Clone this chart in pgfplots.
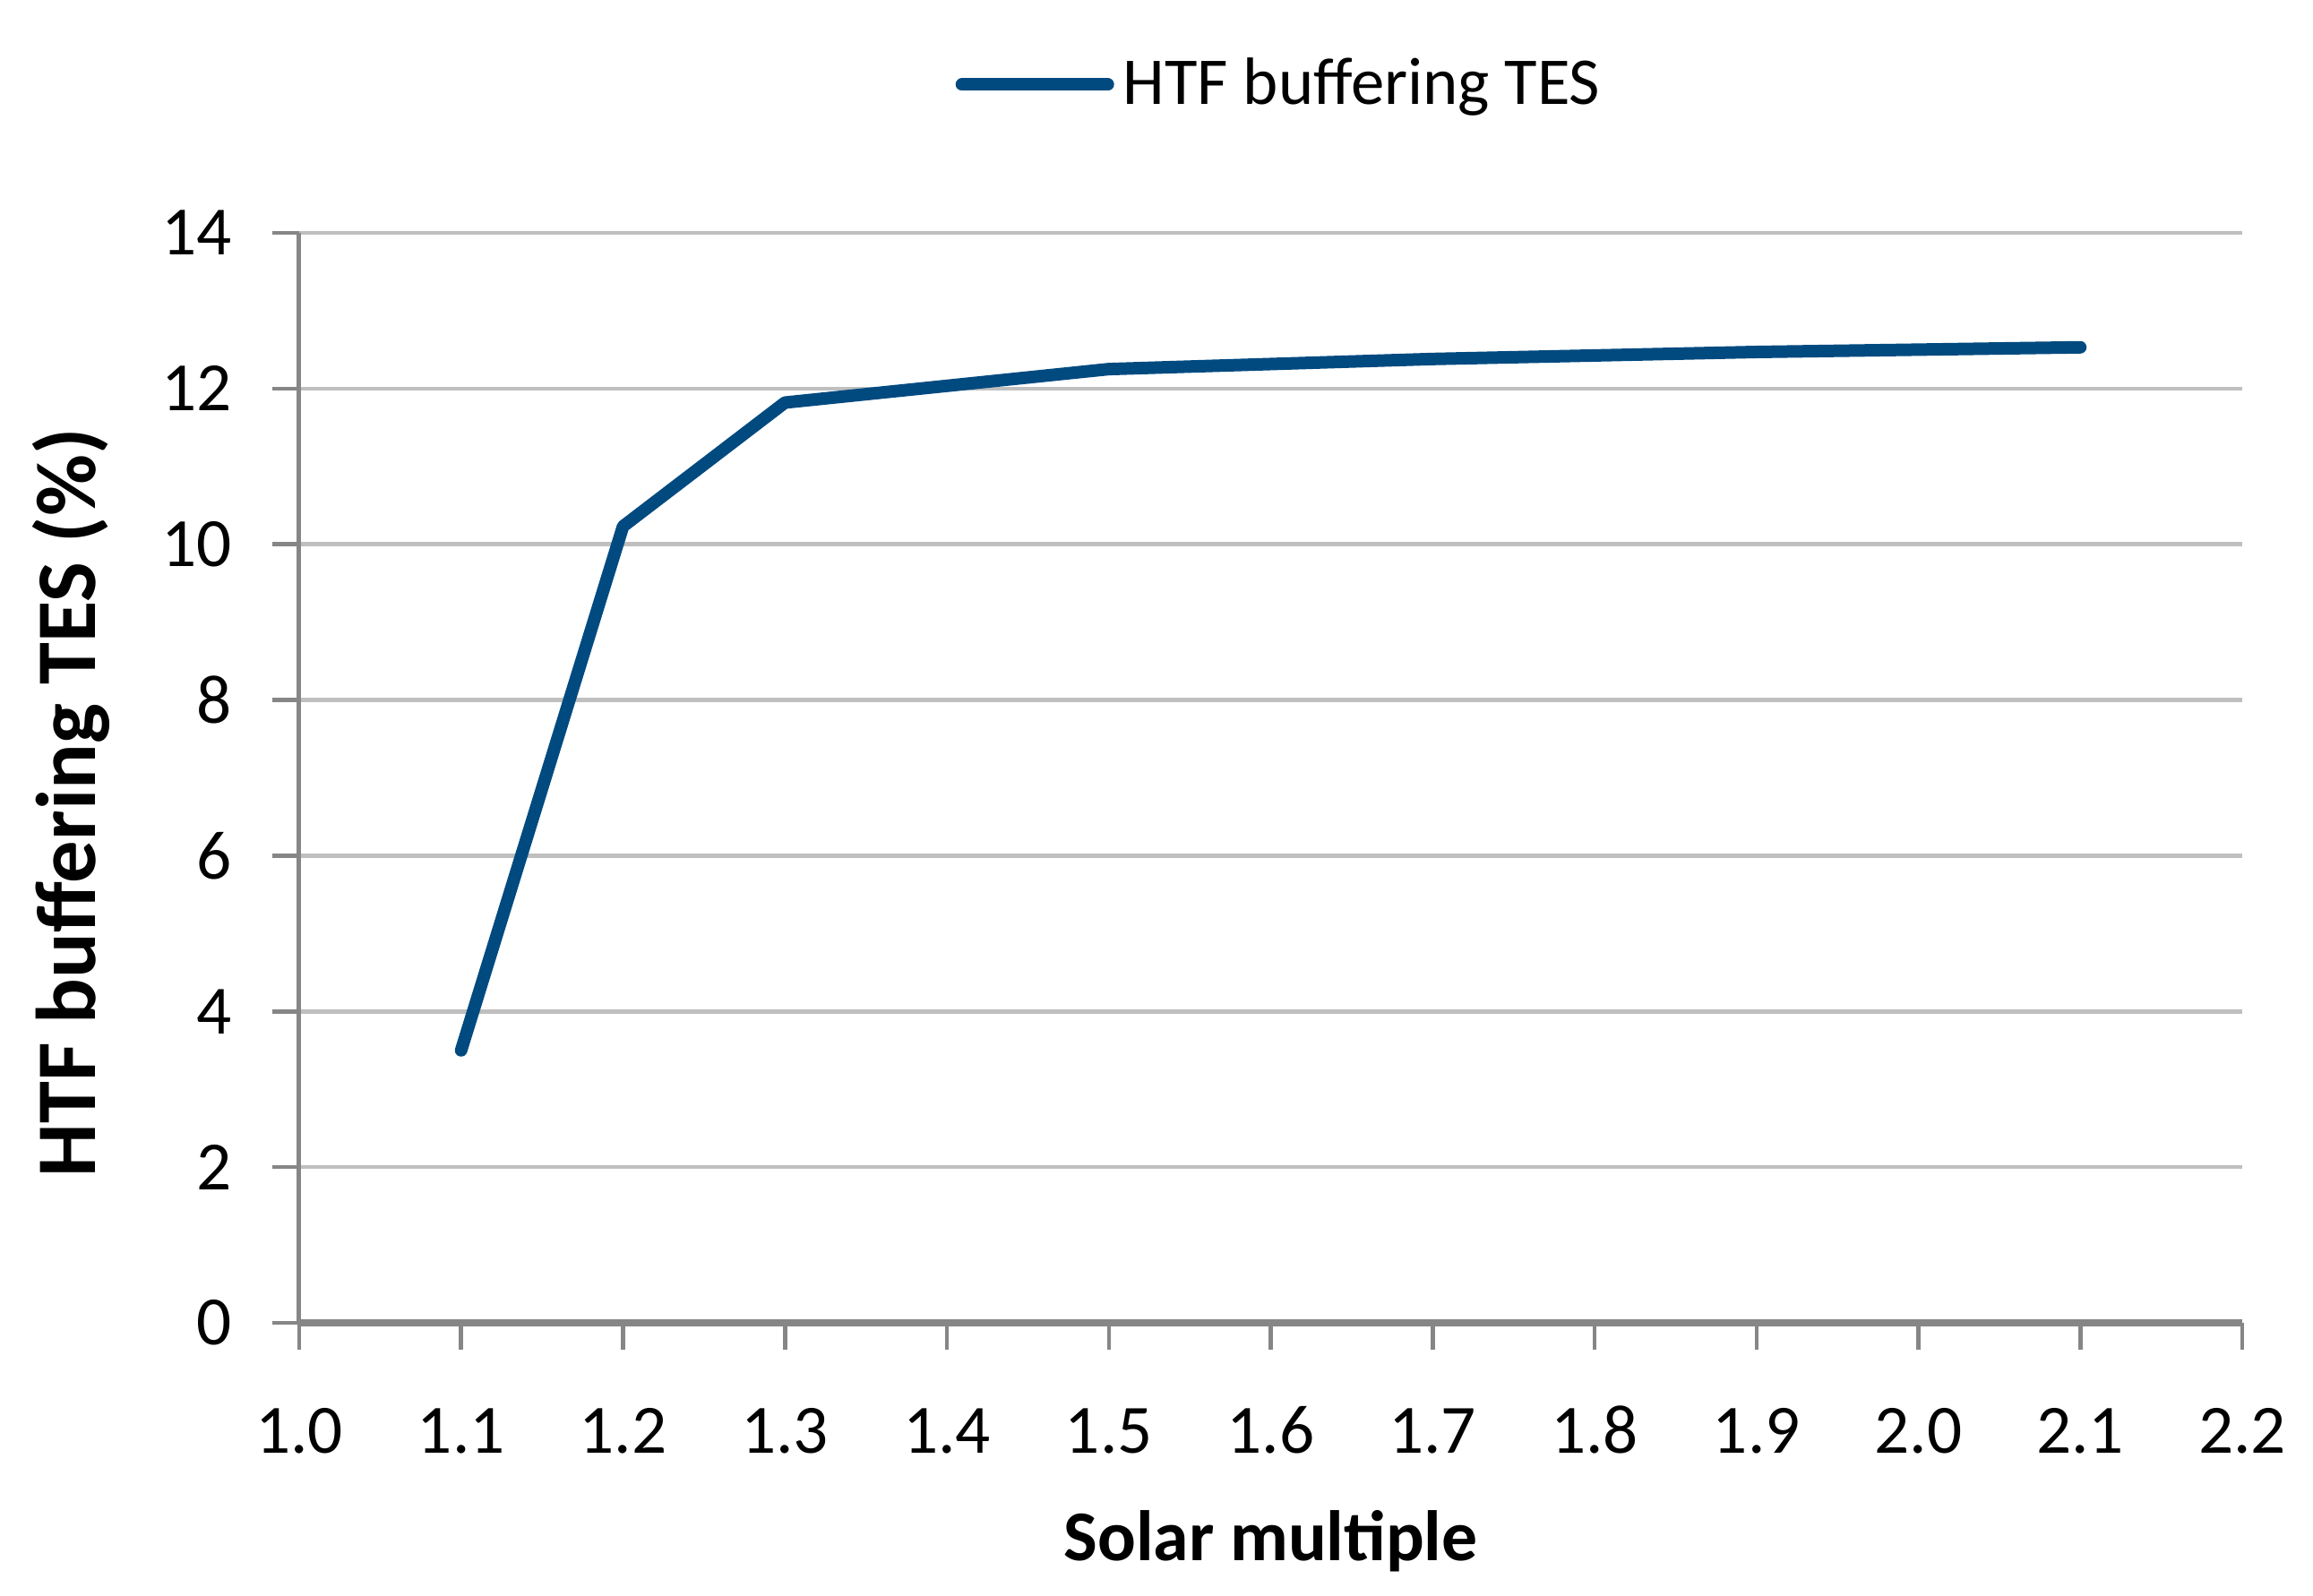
\documentclass[border=0pt]{standalone}
\usepackage{pgfplots}
\pgfplotsset{compat=1.18}
\usepackage{fontspec}
\setmainfont{Carlito}
\definecolor{lineblue}{RGB}{0,74,128}
\definecolor{axgray}{RGB}{134,134,134}
\definecolor{gridgray}{RGB}{191,191,191}
\begin{document}
\begin{tikzpicture}
\useasboundingbox (-66.8bp,-61bp) rectangle (449.6bp,295.4bp);
\begin{axis}[
 at={(0,0)}, anchor=south west,
 scale only axis, width=433.8bp, height=243.4bp,
 xmin=1.0, xmax=2.2, ymin=0, ymax=14,
 axis lines=left, axis line style={-},
 x axis line style={line width=1.5bp, draw=axgray},
 y axis line style={line width=1bp, draw=axgray},
 xtick={1.0,1.1,1.2,1.3,1.4,1.5,1.6,1.7,1.8,1.9,2.0,2.1,2.2},
 ytick={0,2,4,6,8,10,12,14},
 tick align=outside, major tick length=6bp,
 tick style={line width=0.9bp, draw=axgray},
 ymajorgrids, grid style={line width=0.9bp, draw=gridgray},
 xticklabel style={/pgf/number format/.cd, fixed, fixed zerofill, precision=1, /tikz/.cd, text height=11bp, text depth=0bp, yshift=-8.6bp},
 yticklabel style={xshift=-5.6bp},
 /pgf/number format/assume math mode=true,
 tick label style={font=\fontsize{15.5}{18}\selectfont},
 xlabel={Solar multiple}, ylabel={HTF buffering TES (\%)},
 xlabel style={font=\bfseries\fontsize{16}{19}\selectfont, at={(axis description cs:0.5,-0.2005)}, anchor=center},
 ylabel style={font=\bfseries\fontsize{19}{22}\selectfont, at={(axis description cs:-0.1176,0.477)}, anchor=center},
 legend style={at={(axis description cs:0.506,1.136)}, anchor=center, draw=none, fill=none, font=\fontsize{15}{18}\selectfont},
 legend image code/.code={\draw[#1] (0bp,0bp) -- (32.6bp,0bp);},
]
\addplot[lineblue, line width=2.8bp, line cap=round, line join=round] coordinates {
 (1.1,3.5) (1.2,10.23) (1.3,11.82) (1.5,12.25) (1.7,12.38) (1.9,12.47) (2.1,12.53)
};
\addlegendentry{HTF buffering TES}
\end{axis}
\end{tikzpicture}
\end{document}
